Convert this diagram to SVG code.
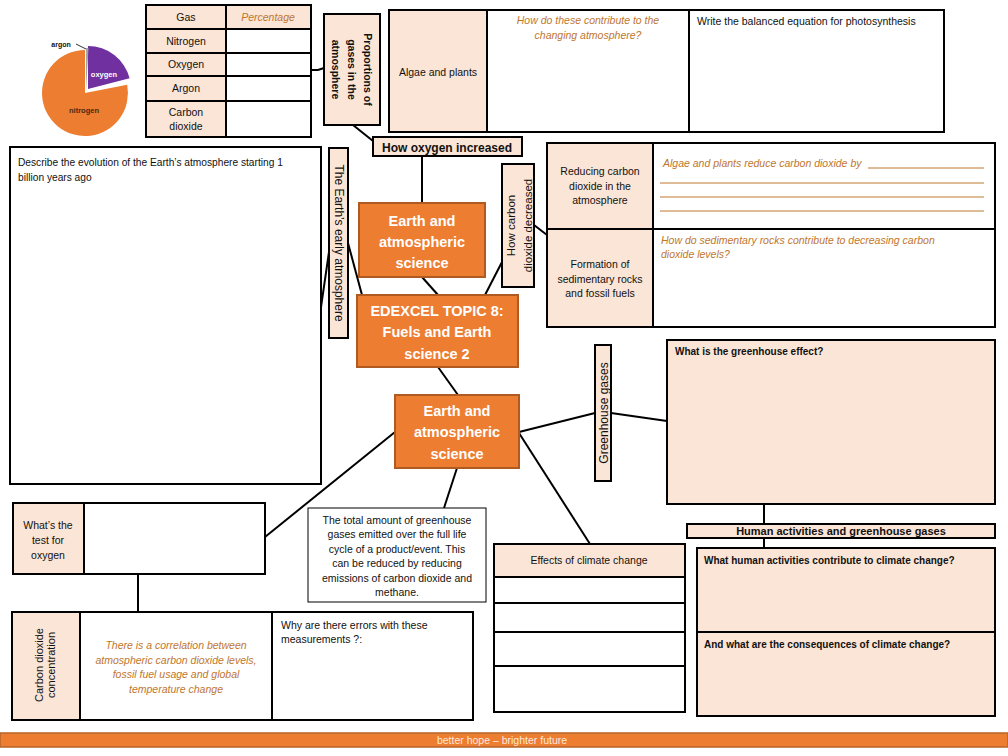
<svg xmlns="http://www.w3.org/2000/svg" width="1008" height="756" viewBox="0 0 1008 756">
<style>
text{font-family:"Liberation Sans",Arial,sans-serif;fill:#111;}
.box{stroke:#000;stroke-width:2;fill:#fff;}
.pch{stroke:#000;stroke-width:2;fill:#fbe5d6;}
.org{stroke:#ae5a21;stroke-width:2;fill:#ed7d31;}
.ln{stroke:#000;stroke-width:2;fill:none;}
.t{font-size:10.5px;}
.c{text-anchor:middle;}
.b{font-weight:bold;}
.it{font-style:italic;fill:#c0762e;}
.w{fill:#fff;font-weight:bold;text-anchor:middle;}
.rule{stroke:#c0762e;stroke-width:1;}
</style>
<rect width="1008" height="756" fill="#fff"/>

<g id="connectors">
<polyline class="ln" points="311,70 318,70 324,68"/>
<line class="ln" x1="353" y1="125" x2="373" y2="141"/>
<line class="ln" x1="422" y1="156" x2="422" y2="203"/>
<line class="ln" x1="422" y1="277" x2="438" y2="295"/>
<line class="ln" x1="321" y1="307" x2="329" y2="252"/>
<line class="ln" x1="348" y1="243" x2="362" y2="295"/>
<line class="ln" x1="485" y1="295" x2="502" y2="262"/>
<line class="ln" x1="534" y1="225" x2="547" y2="235"/>
<line class="ln" x1="438" y1="367" x2="458" y2="395"/>
<line class="ln" x1="519" y1="432" x2="595" y2="413"/>
<line class="ln" x1="611" y1="413" x2="667" y2="421"/>
<line class="ln" x1="519" y1="433" x2="590" y2="544"/>
<line class="ln" x1="457" y1="468" x2="444" y2="508"/>
<line class="ln" x1="395" y1="432" x2="265" y2="537"/>
<line class="ln" x1="138" y1="574" x2="138" y2="612"/>
<line class="ln" x1="764" y1="504" x2="764" y2="524"/>
<line class="ln" x1="764" y1="538" x2="764" y2="548"/>
</g>

<g id="pie">
<path d="M85,93 L127.2,84.8 A43,43 0 1 1 85,50 Z" fill="#ed7d31"/>
<path d="M88,89 L88,46 A43,43 0 0 1 129.6,78.3 Z" fill="#7030a0"/>
<path d="M86,91 L86,48 A43,43 0 0 1 88.5,48.1 Z" fill="#a5a5a5"/>
<line x1="76" y1="44" x2="86" y2="49" stroke="#333" stroke-width="1"/>
<text x="61" y="47" class="c b" style="font-size:7px">argon</text>
<text x="104" y="77" class="c b" style="font-size:7.5px;fill:#fff">oxygen</text>
<text x="84" y="113" class="c b" style="font-size:7.5px;fill:#4a2a10">nitrogen</text>
</g>

<g id="gas-table">
<rect class="pch" x="146" y="5" width="80" height="132"/>
<rect class="pch" x="226" y="5" width="85" height="24"/>
<rect class="box" x="226" y="29" width="85" height="108"/>
<rect x="146" y="5" width="165" height="132" fill="none" stroke="#000" stroke-width="2"/>
<line class="ln" x1="146" y1="29" x2="311" y2="29"/>
<line class="ln" x1="146" y1="53" x2="311" y2="53"/>
<line class="ln" x1="146" y1="76" x2="311" y2="76"/>
<line class="ln" x1="146" y1="101" x2="311" y2="101"/>
<text x="186" y="21" class="t c">Gas</text>
<text x="268" y="21" class="t c it">Percentage</text>
<text x="186" y="45" class="t c">Nitrogen</text>
<text x="186" y="68" class="t c">Oxygen</text>
<text x="186" y="92" class="t c">Argon</text>
<text x="186" y="116" class="t c">Carbon</text>
<text x="186" y="130" class="t c">dioxide</text>
</g>

<g id="proportions">
<rect class="pch" x="324" y="14" width="56" height="111"/>
<g transform="translate(352,69.5) rotate(90)">
<text y="-11.5" class="c b" style="font-size:10.5px">Proportions of</text>
<text y="4.5" class="c b" style="font-size:10.5px">gases in the</text>
<text y="20.5" class="c b" style="font-size:10.5px">atmosphere</text>
</g>
</g>

<g id="algae-table">
<rect class="pch" x="389" y="10" width="98" height="122"/>
<rect class="box" x="487" y="10" width="202" height="122"/>
<rect class="box" x="689" y="10" width="255" height="122"/>
<text x="438" y="75.5" class="t c">Algae and plants</text>
<text x="588" y="24" class="t c it">How do these contribute to the</text>
<text x="588" y="39" class="t c it">changing atmosphere?</text>
<text x="697" y="24.5" class="t">Write the balanced equation for photosynthesis</text>
</g>

<g id="how-oxygen">
<rect class="pch" x="373" y="137" width="149" height="19"/>
<text x="447" y="151.5" class="c b" style="font-size:12px">How oxygen increased</text>
</g>

<g id="describe">
<rect class="box" x="10" y="147" width="311" height="337"/>
<text x="18" y="165.5" style="font-size:10.2px">Describe the evolution of the Earth’s atmosphere starting 1</text>
<text x="18" y="180.5" style="font-size:10.2px">billion years ago</text>
</g>

<g id="early-atmosphere">
<rect class="pch" x="329" y="148" width="19" height="190"/>
<text transform="translate(339,243) rotate(90)" y="4.5" class="c" style="font-size:12px">The Earth’s early atmosphere</text>
</g>

<g id="earth-science-1">
<rect class="org" x="359" y="203" width="126" height="74"/>
<text x="422" y="226" class="w" style="font-size:14.5px">Earth and</text>
<text x="422" y="247" class="w" style="font-size:14.5px">atmospheric</text>
<text x="422" y="268" class="w" style="font-size:14.5px">science</text>
</g>

<g id="edexcel">
<rect class="org" x="357" y="295" width="161" height="72"/>
<text x="437" y="315.5" class="w" style="font-size:14.5px">EDEXCEL TOPIC 8:</text>
<text x="437" y="337" class="w" style="font-size:14.5px">Fuels and Earth</text>
<text x="437" y="358.5" class="w" style="font-size:14.5px">science 2</text>
</g>

<g id="co2-decreased">
<rect class="pch" x="502" y="164" width="32" height="123"/>
<g transform="translate(518,225.5) rotate(-90)">
<text y="-3.5" class="c" style="font-size:11.5px">How carbon</text>
<text y="13.5" class="c" style="font-size:11.5px">dioxide decreased</text>
</g>
</g>

<g id="co2-table">
<rect class="pch" x="547" y="143" width="106" height="184"/>
<rect class="box" x="653" y="143" width="342" height="184"/>
<line class="ln" x1="547" y1="229" x2="995" y2="229"/>
<rect x="547" y="143" width="448" height="184" fill="none" stroke="#000" stroke-width="2"/>
<text x="600" y="174.5" class="t c">Reducing carbon</text>
<text x="600" y="189.5" class="t c">dioxide in the</text>
<text x="600" y="203.5" class="t c">atmosphere</text>
<text x="600" y="267.5" class="t c">Formation of</text>
<text x="600" y="282.5" class="t c">sedimentary rocks</text>
<text x="600" y="296.5" class="t c">and fossil fuels</text>
<text x="663" y="167" class="t it">Algae and plants reduce carbon dioxide by</text>
<line class="rule" x1="868" y1="168" x2="984" y2="168"/>
<line class="rule" x1="660" y1="183" x2="984" y2="183"/>
<line class="rule" x1="660" y1="197" x2="984" y2="197"/>
<line class="rule" x1="660" y1="211" x2="984" y2="211"/>
<text x="661" y="243.5" class="t it">How do sedimentary rocks contribute to decreasing carbon</text>
<text x="661" y="257.5" class="t it">dioxide levels?</text>
</g>

<g id="greenhouse-gases">
<rect class="pch" x="595" y="345" width="16" height="136"/>
<text transform="translate(603,413) rotate(-90)" y="4.5" class="c" style="font-size:12px">Greenhouse gases</text>
</g>

<g id="earth-science-2">
<rect class="org" x="395" y="395" width="124" height="73"/>
<text x="457" y="416" class="w" style="font-size:14.5px">Earth and</text>
<text x="457" y="437" class="w" style="font-size:14.5px">atmospheric</text>
<text x="457" y="459" class="w" style="font-size:14.5px">science</text>
</g>

<g id="greenhouse-effect">
<rect class="pch" x="667" y="340" width="328" height="164"/>
<text x="675" y="355" class="b" style="font-size:10px">What is the greenhouse effect?</text>
</g>

<g id="human-activities">
<rect class="pch" x="687" y="524" width="308" height="14"/>
<text x="841" y="535" class="c b" style="font-size:11px">Human activities and greenhouse gases</text>
</g>

<g id="human-questions">
<rect class="pch" x="697" y="548" width="298" height="168"/>
<line class="ln" x1="697" y1="632" x2="995" y2="632"/>
<text x="704" y="563.5" class="b" style="font-size:10px">What human activities contribute to climate change?</text>
<text x="704" y="647.5" class="b" style="font-size:10px">And what are the consequences of climate change?</text>
</g>

<g id="effects">
<rect class="pch" x="494" y="544" width="191" height="33"/>
<rect class="box" x="494" y="577" width="191" height="135"/>
<line class="ln" x1="494" y1="603" x2="685" y2="603"/>
<line class="ln" x1="494" y1="632" x2="685" y2="632"/>
<line class="ln" x1="494" y1="666" x2="685" y2="666"/>
<text x="589" y="564" class="t c">Effects of climate change</text>
</g>

<g id="carbon-footprint">
<rect x="308" y="508" width="178" height="94" fill="#fff" stroke="#000" stroke-width="1"/>
<text x="397" y="523.5" class="t c">The total amount of greenhouse</text>
<text x="397" y="537.5" class="t c">gases emitted over the full life</text>
<text x="397" y="552.5" class="t c">cycle of a product/event. This</text>
<text x="397" y="566.5" class="t c">can be reduced by reducing</text>
<text x="397" y="581.5" class="t c">emissions of carbon dioxide and</text>
<text x="397" y="595.5" class="t c">methane.</text>
</g>

<g id="oxygen-test">
<rect class="pch" x="13" y="503" width="71" height="71"/>
<rect class="box" x="84" y="503" width="181" height="71"/>
<text x="48" y="529" class="t c">What’s the</text>
<text x="48" y="544" class="t c">test for</text>
<text x="48" y="559" class="t c">oxygen</text>
</g>

<g id="co2-concentration">
<rect class="pch" x="12" y="612" width="68" height="108"/>
<rect class="box" x="80" y="612" width="192" height="108"/>
<rect class="box" x="272" y="612" width="201" height="108"/>
<g transform="translate(45,665) rotate(-90)">
<text y="-2" class="c" style="font-size:11px">Carbon dioxide</text>
<text y="10" class="c" style="font-size:11px">concentration</text>
</g>
<text x="176" y="648.5" class="t c it">There is a correlation between</text>
<text x="176" y="663.5" class="t c it">atmospheric carbon dioxide levels,</text>
<text x="176" y="677.5" class="t c it">fossil fuel usage and global</text>
<text x="176" y="692.5" class="t c it">temperature change</text>
<text x="281" y="628.5" class="t">Why are there errors with these</text>
<text x="281" y="642.5" class="t">measurements ?:</text>
</g>

<g id="footer">
<rect x="0" y="733" width="1008" height="14" fill="#ed7d31" stroke="#b5652a" stroke-width="1.5"/>
<text x="502" y="744" class="c" style="font-size:10.5px;fill:#fde9d9">better hope – brighter future</text>
</g>
</svg>
